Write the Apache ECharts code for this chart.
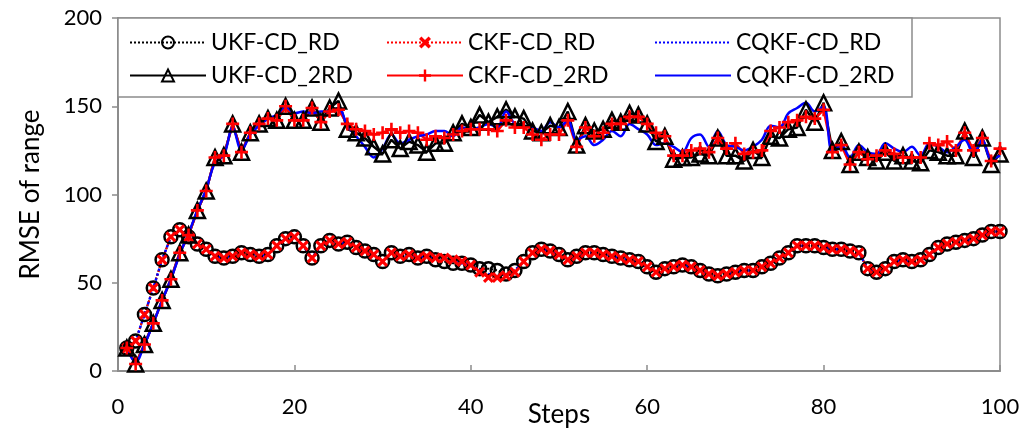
<!DOCTYPE html>
<html>
<head>
<meta charset="utf-8">
<script src="https://cdn.jsdelivr.net/npm/echarts@6/dist/echarts.min.js"></script>
<style>
  html, body { margin: 0; padding: 0; background: #fff; }
  #main { width: 1024px; height: 433px; }
</style>
</head>
<body>
<div id="main"></div>
<script>
// steps 1..100
var steps = [1,2,3,4,5,6,7,8,9,10,11,12,13,14,15,16,17,18,19,20,
  21,22,23,24,25,26,27,28,29,30,31,32,33,34,35,36,37,38,39,40,
  41,42,43,44,45,46,47,48,49,50,51,52,53,54,55,56,57,58,59,60,
  61,62,63,64,65,66,67,68,69,70,71,72,73,74,75,76,77,78,79,80,
  81,82,83,84,85,86,87,88,89,90,91,92,93,94,95,96,97,98,99,100];

// RMSE of range, RD variants
var ukfRD = [13,17,32,47,63,76,80,76,72,69, 65,64,65,67,66,65,66,71,75,76,
  71,64,71,74,72,73,70,68,66,62, 67,65,66,64,65,63,62,61,61,60,
  58,58,57,55,57,62,67,69,68,66, 63,65,67,67,66,65,64,63,62,59,
  56,58,59,60,59,57,55,54,55,56, 57,57,59,61,64,67,71,71,71,70,
  69,69,68,67,58,56,58,62,63,62, 63,66,70,72,73,74,75,77,79,79];
var ckfRD = [13,17,32,47,63,76,80,76,72,69, 65,64,65,67,66,65,66,71,75,76,
  71,64,71,74,72,73,70,68,66,62, 67,65,66,64,65,64,64,63,62,60,
  56,53,53,54,56,62,67,69,68,66, 63,65,67,67,66,65,64,63,62,59,
  56,58,59,60,59,57,55,54,55,56, 57,57,59,61,64,67,71,71,71,70,
  69,69,68,67,58,56,58,62,63,62, 63,66,70,72,73,74,75,77,79,79];
var cqkfRD = [13,17,32,47,63,76,80,76,72,69, 65,64,65,67,66,65,66,71,75,76,
  71,64,71,74,72,73,70,68,66,62, 67,65,66,64,65,64,63,62,61,60,
  57,55,54,55,57,62,67,69,68,66, 63,65,67,67,66,65,64,63,62,59,
  56,58,59,60,59,57,55,54,55,56, 57,57,59,61,64,67,71,71,71,70,
  69,69,68,67,58,56,58,62,63,62, 63,66,70,72,73,74,75,77,79,79];

// 2RD variants
var ukf2RD = [13,4,15,27,40,52,67,77,91,102, 121,122,140,124,135,140,143,142,150,142,
  142,149,141,149,153,137,135,132,127,123, 131,126,130,128,124,129,129,135,140,138,
  145,141,144,148,144,143,136,135,139,138, 147,128,139,136,137,142,141,146,145,140,
  130,133,120,121,121,123,122,132,122,122, 119,125,121,133,132,137,138,148,141,152,
  125,130,117,124,121,119,124,119,122,119, 118,125,124,122,122,136,121,132,117,123];
var ckf2RD = [13,4,15,27,40,52,67,77,91,102, 121,122,140,124,135,140,143,142,150,142,
  142,149,141,147,148,140,137,136,134,135, 137,135,136,135,131,133,132,134,136,137,
  137,137,136,142,138,138,134,131,134,134, 142,127,138,133,135,140,140,144,144,140,
  135,133,122,122,125,126,124,132,126,129, 123,124,125,136,138,141,142,144,143,148,
  124,128,117,124,120,122,125,123,121,121, 121,129,128,130,125,135,125,132,119,126];
var cqkf2RD = [13,5,15,27,40,52,66,78,91,103, 118,122,138,125,134,139,143,145,150,146,
  147,146,147,147,149,139,133,127,121,126, 134,129,131,133,134,136,136,133,138,137,
  138,140,138,147,140,139,138,136,141,138, 142,131,133,128,131,136,133,140,137,134,
  128,129,127,124,132,134,127,136,128,127, 125,127,131,139,138,146,149,152,147,150,
  124,128,121,128,124,123,129,126,124,127, 122,129,127,124,127,131,123,131,120,122];

var xTicks = [0, 20, 40, 60, 80, 100];
var yTicks = [0, 50, 100, 150, 200];

var pairs = function (vals) {
    return steps.map(function (s, i) { return [s, vals[i]]; });
};

var fontName = 'Lato';
var axisGray = '#8c8c8c';
var xShape = 'path://M0,2L2,0L5,3L8,0L10,2L7,5L10,8L8,10L5,7L2,10L0,8L3,5Z';
var plusShape = 'path://M4,0H6V4H10V6H6V10H4V6H0V4H4Z';

var legendBase = {
    orient: 'vertical',
    top: 26,
    itemWidth: 76,
    itemHeight: 15,
    itemGap: 10,
    textStyle: { fontFamily: fontName, fontSize: 23, color: '#000' }
};
var noMark = { opacity: 0 };

var option = {
    animation: false,
    backgroundColor: '#fff',
    grid: {
        left: 118, right: 24, top: 18, bottom: 62,
        outerBoundsMode: 'none',
        containLabel: false,
        show: true,
        borderColor: axisGray,
        borderWidth: 1.5
    },
    graphic: [{
        type: 'rect',
        z: 3,
        shape: { x: 118, y: 18, width: 794, height: 79 },
        style: { fill: '#fff', stroke: axisGray, lineWidth: 1.5 }
    }],
    legend: [
        Object.assign({}, legendBase, { left: 124, data: ['UKF-CD_RD', 'UKF-CD_2RD'] }),
        Object.assign({}, legendBase, { left: 381, data: ['CKF-CD_RD', 'CKF-CD_2RD'] }),
        Object.assign({}, legendBase, { left: 649, data: [
            { name: 'CQKF-CD_RD', itemStyle: noMark },
            { name: 'CQKF-CD_2RD', itemStyle: noMark }
        ] })
    ],
    xAxis: {
        type: 'value',
        min: xTicks[0], max: xTicks[xTicks.length - 1], interval: 20,
        name: 'Steps',
        nameLocation: 'middle',
        nameGap: 31,
        nameMoveOverlap: false,
        nameTextStyle: { fontFamily: fontName, fontSize: 26, color: '#000' },
        axisLine: { lineStyle: { color: axisGray, width: 2 } },
        axisTick: { inside: true, length: 6, lineStyle: { color: axisGray, width: 1.5 } },
        axisLabel: { fontFamily: fontName, fontSize: 22, color: '#000', margin: 25 },
        splitLine: { show: false }
    },
    yAxis: {
        type: 'value',
        min: yTicks[0], max: yTicks[yTicks.length - 1], interval: 50,
        name: 'RMSE of range',
        nameLocation: 'middle',
        nameGap: 74,
        nameMoveOverlap: false,
        nameTextStyle: { fontFamily: fontName, fontSize: 26, color: '#000' },
        axisLine: { show: true, lineStyle: { color: axisGray, width: 2 } },
        axisTick: { show: true, length: 6, lineStyle: { color: axisGray, width: 1.5 } },
        axisLabel: { fontFamily: fontName, fontSize: 22, color: '#000', margin: 16 },
        splitLine: { show: false }
    },
    series: [
        {
            name: 'UKF-CD_RD', type: 'line', data: pairs(ukfRD),
            symbol: 'circle', symbolSize: 13,
            lineStyle: { color: '#000', width: 2, type: 'dotted' },
            itemStyle: { color: 'rgba(0,0,0,0)', borderColor: '#000', borderWidth: 2.5 }
        },
        {
            name: 'CKF-CD_RD', type: 'line', data: pairs(ckfRD),
            symbol: xShape, symbolSize: 11,
            lineStyle: { color: '#ff0000', width: 2, type: 'dotted' },
            itemStyle: { color: '#ff0000' }
        },
        {
            name: 'CQKF-CD_RD', type: 'line', data: pairs(cqkfRD),
            symbol: 'none',
            lineStyle: { color: '#0000ff', width: 2.5, type: 'dotted' },
            itemStyle: { color: '#0000ff' }
        },
        {
            name: 'UKF-CD_2RD', type: 'line', data: pairs(ukf2RD),
            symbol: 'triangle', symbolSize: 15,
            lineStyle: { color: '#000', width: 2.5 },
            itemStyle: { color: 'rgba(0,0,0,0)', borderColor: '#000', borderWidth: 2.5 }
        },
        {
            name: 'CKF-CD_2RD', type: 'line', data: pairs(ckf2RD),
            symbol: plusShape, symbolSize: 13,
            lineStyle: { color: '#ff0000', width: 2.5 },
            itemStyle: { color: '#ff0000' }
        },
        {
            name: 'CQKF-CD_2RD', type: 'line', data: pairs(cqkf2RD),
            symbol: 'none', smooth: 0.35,
            lineStyle: { color: '#0000ff', width: 2.5 },
            itemStyle: { color: '#0000ff' }
        }
    ]
};

var myChart = echarts.init(document.getElementById('main'));
myChart.setOption(option);
</script>
</body>
</html>
